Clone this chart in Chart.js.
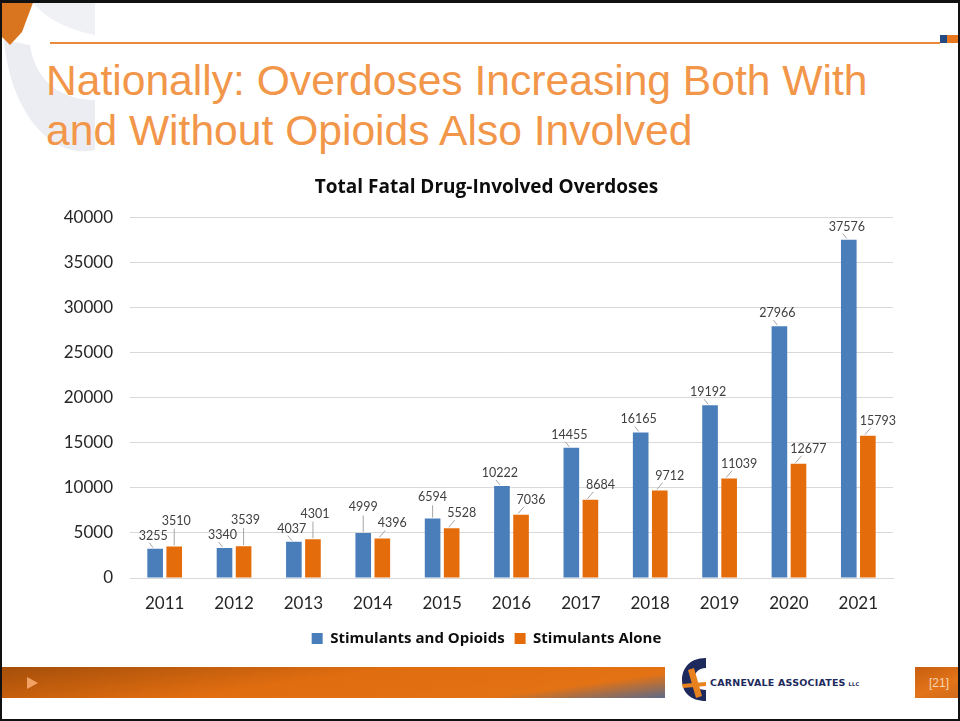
<!DOCTYPE html>
<html>
<head>
<meta charset="utf-8">
<script src="https://cdn.jsdelivr.net/npm/chart.js@4.4.1/dist/chart.umd.min.js"></script>
<style>
  html, body { margin: 0; padding: 0; background: #fff; }
  #slide { position: relative; width: 960px; height: 721px; overflow: hidden; background: #fff; }
  #frame { position: absolute; left: 0; top: 0; width: 956px; height: 716px; border: 2px solid #111; border-top-width: 3px; z-index: 5; pointer-events: none; }
  #rule { position: absolute; left: 50px; top: 42px; width: 890px; height: 2px; background: #ea8a3a; }
  #sqBlue { position: absolute; left: 940px; top: 35px; width: 7px; height: 8px; background: #244a84; }
  #sqOrange { position: absolute; left: 947px; top: 35px; width: 13px; height: 8px; background: #e8781e; }
  #heading { position: absolute; left: 46px; top: 55px; font-family: "Liberation Sans", Arial, sans-serif; font-size: 42.6px; line-height: 50px; color: #f2964a; }
  #footbar { position: absolute; left: 0; top: 667px; width: 665px; height: 31px;
    background: linear-gradient(172deg, #a44e0a 0%, #e06d10 45%, #e37214 80%, #5d6a88 100%); }
  #play { position: absolute; left: 27px; top: 677px; width: 0; height: 0; border-top: 6px solid transparent; border-bottom: 6px solid transparent; border-left: 11px solid #f3a266; }
  #pagebox { position: absolute; left: 915px; top: 667px; width: 45px; height: 31px; background: linear-gradient(160deg, #c85f0e, #e3741a 60%, #d06a1c); color: #f6d4b4; font-family: "Liberation Sans", Arial, sans-serif; font-size: 12px; line-height: 33px; text-indent: 14px; }
  #logoText { position: absolute; left: 710px; top: 677px; font-family: "DejaVu Sans", sans-serif; font-weight: bold; font-size: 9.5px; color: #1e2a5c; letter-spacing: 0.2px; }
  #logoText small { font-size: 5px; margin-left: 3px; }
  #chartBox { position: absolute; left: 0; top: 0; width: 960px; height: 721px; z-index: 3; }
</style>
</head>
<body>
<div id="slide">
  <svg style="position:absolute;left:0;top:0" width="110" height="180">
    <path d="M 4 40 C 10 110, 50 160, 95 150 L 95 100 C 60 100, 35 80, 30 45 Z" fill="#e6e8ef" opacity="0.8"/>
    <path d="M 30 0 L 95 0 L 95 35 C 70 30, 50 20, 40 10 Z" fill="#eceef3" opacity="0.8"/>
    <path d="M 0 0 L 34 0 L 22 32 L 10 45 L 0 35 Z" fill="#d9741f"/>
  </svg>
  <div id="rule"></div>
  <div id="sqBlue"></div><div id="sqOrange"></div>
  <div id="heading">Nationally: Overdoses Increasing Both With<br>and Without Opioids Also Involved</div>

  <div id="footbar"></div>
  <div id="play"></div>
  <svg style="position:absolute;left:680px;top:656px" width="32" height="48">
    <path d="M 26 2 C 8 2, 2 14, 2 24 C 2 36, 10 45, 26 45 L 26 34 C 18 34, 14 30, 14 24 C 14 17, 18 12, 26 12 Z" fill="#1e2a5c"/>
    <path d="M 8 14 L 14 12 L 22 40 L 16 42 Z" fill="#e8821e"/>
    <path d="M 2 28 L 26 26 L 26 30 L 3 32 Z" fill="#e8821e"/>
  </svg>
  <div id="logoText">CARNEVALE ASSOCIATES<small>LLC</small></div>
  <div id="pagebox">[21]</div>

  <div id="chartBox"><canvas id="odChart" width="960" height="721"></canvas></div>
  <div id="frame"></div>
</div>

<script>
// Total fatal drug-involved overdoses, by year
var years = ['2011', '2012', '2013', '2014', '2015', '2016', '2017', '2018', '2019', '2020', '2021'];
var withOpioids = [3255, 3340, 4037, 4999, 6594, 10222, 14455, 16165, 19192, 27966, 37576];
var stimulantsOnly = [3510, 3539, 4301, 4396, 5528, 7036, 8684, 9712, 11039, 12677, 15793];
var yTicks = [0, 5000, 10000, 15000, 20000, 25000, 30000, 35000, 40000];

var blue = 'rgb(74, 126, 187)';
var orange = 'rgb(228, 108, 10)';
var fam = 'Lato, "Open Sans", sans-serif';
var boldFam = '"Open Sans", Lato, sans-serif';
var labelFont = '12.5px ' + fam;

// Excel-style value labels: blue centred over its bar, orange shifted right.
// When the two collide, the taller bar's label is lifted and gets a leader line.
var pairLabels = {
  id: 'pairLabels',
  afterDatasetsDraw: function (chart) {
    var ctx = chart.ctx;
    var m0 = chart.getDatasetMeta(0).data;
    var m1 = chart.getDatasetMeta(1).data;
    ctx.save();
    ctx.font = labelFont;
    ctx.fillStyle = '#404040';
    ctx.textBaseline = 'middle';
    ctx.textAlign = 'center';
    ctx.strokeStyle = '#a6a6a6';
    ctx.lineWidth = 1;
    for (var i = 0; i < years.length; i++) {
      var a = m0[i], b = m1[i];
      var ya = a.y - 13, yb = b.y - 15;
      var liftA = false, liftB = false;
      if (Math.abs(ya - yb) < 15) {
        if (a.y <= b.y) { ya = yb - 16; liftA = true; } else { yb = ya - 15; liftB = true; }
      }
      var xa = a.x - (liftA ? 0 : 2), xb = b.x + 10;
      if (liftB) { xb = b.x + 2; }
      ctx.fillText(String(withOpioids[i]), xa, ya);
      ctx.fillText(String(stimulantsOnly[i]), xb, yb);
      ctx.beginPath();
      if (liftA) {
        ctx.moveTo(a.x, ya + 8); ctx.lineTo(a.x, a.y - 1);
      } else {
        ctx.moveTo(a.x - 6, ya + 7); ctx.lineTo(a.x - 2, a.y - 1);
      }
      if (liftB) {
        ctx.moveTo(b.x, yb + 8); ctx.lineTo(b.x, b.y - 1);
      } else {
        ctx.moveTo(b.x + 3, yb + 7); ctx.lineTo(b.x - 3, b.y - 1);
      }
      ctx.stroke();
    }
    ctx.restore();
  }
};

var ctx = document.getElementById('odChart').getContext('2d');
var odChart = new Chart(ctx, {
  type: 'bar',
  data: {
    labels: years,
    datasets: [{
      label: 'Stimulants and Opioids',
      data: withOpioids,
      backgroundColor: blue,
      borderWidth: 0,
      categoryPercentage: 0.55,
      barPercentage: 0.82
    }, {
      label: 'Stimulants Alone',
      data: stimulantsOnly,
      backgroundColor: orange,
      borderWidth: 0,
      categoryPercentage: 0.55,
      barPercentage: 0.82
    }]
  },
  options: {
    responsive: false,
    animation: false,
    layout: { padding: { left: 60, right: 47, top: 176, bottom: 65 } },
    plugins: {
      title: {
        display: true,
        text: 'Total Fatal Drug-Involved Overdoses',
        color: '#0d0d0d',
        font: { family: boldFam, size: 19, weight: 'bold' },
        padding: { top: 0, bottom: 19 }
      },
      legend: {
        position: 'bottom',
        labels: {
          color: '#0d0d0d',
          font: { family: boldFam, size: 15, weight: 'bold' },
          boxWidth: 11,
          boxHeight: 11,
          padding: 10
        }
      },
      tooltip: { enabled: false }
    },
    scales: {
      x: {
        grid: { display: false },
        border: { color: '#d9d9d9' },
        ticks: { color: '#262626', font: { family: fam, size: 17, lineHeight: 1.0 }, padding: 9 }
      },
      y: {
        min: 0,
        max: 40000,
        afterFit: function (s) { s.width = 70; },
        afterBuildTicks: function (s) { s.ticks = yTicks.map(function (v) { return { value: v }; }); },
        grid: { color: '#d9d9d9', drawTicks: false },
        border: { display: false },
        ticks: {
          color: '#262626',
          font: { family: fam, size: 17 },
          padding: 17,
          callback: function (v) { return String(v); }
        }
      },
      // empty right-hand margin so the title and legend centre like the plot frame
      spacer: {
        type: 'linear',
        position: 'right',
        afterFit: function (s) { s.width = 20; },
        grid: { display: false, drawTicks: false },
        border: { display: false },
        ticks: { display: false }
      }
    }
  },
  plugins: [pairLabels]
});
</script>
</body>
</html>
